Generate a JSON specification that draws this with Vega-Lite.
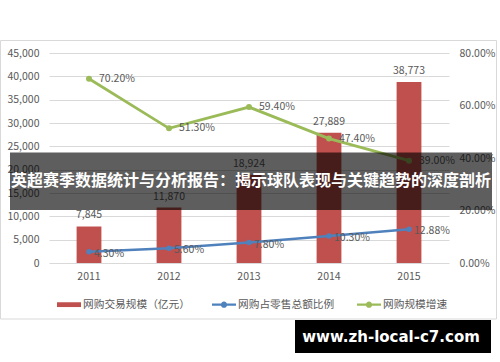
{
  "$schema": "https://vega.github.io/schema/vega-lite/v6.json",
  "width": 400,
  "height": 210,
  "autosize": {"type": "none"},
  "padding": {"left": 49, "top": 53, "right": 51, "bottom": 99},
  "background": "white",
  "config": {
    "view": {"stroke": null},
    "font": "Noto Sans CJK SC",
    "axis": {"labelFont": "Noto Sans CJK SC", "labelColor": "#595959", "labelFontSize": 10.5}
  },
  "data": {
    "values": [
      {"year": "2011", "scale": 7845, "share": 0.043, "growth": 0.702},
      {"year": "2012", "scale": 11870, "share": 0.056, "growth": 0.513},
      {"year": "2013", "scale": 18924, "share": 0.078, "growth": 0.594},
      {"year": "2014", "scale": 27889, "share": 0.103, "growth": 0.474},
      {"year": "2015", "scale": 38773, "share": 0.1288, "growth": 0.39}
    ]
  },
  "layer": [
    {
      "data": {"values": [{}]},
      "mark": {"type": "rect", "filled": false, "stroke": "#D9D9D9", "strokeWidth": 1},
      "encoding": {
        "x": {"datum": -0.12125, "type": "quantitative", "scale": {"domain": [0, 1], "nice": false, "zero": false}, "axis": null},
        "x2": {"datum": 1.11875},
        "y": {"datum": 1.0595, "type": "quantitative", "scale": {"domain": [0, 1], "nice": false, "zero": false}, "axis": null},
        "y2": {"datum": -0.2667}
      }
    },
    {
      "layer": [
        {
          "encoding": {
            "x": {
              "field": "year", "type": "nominal",
              "scale": {"paddingInner": 0, "paddingOuter": 0},
              "axis": {"title": null, "labelAngle": 0, "domain": false, "ticks": false, "labelPadding": 8, "grid": false}
            },
            "y": {
              "field": "scale", "type": "quantitative",
              "scale": {"domain": [0, 45000], "nice": false},
              "axis": {"title": null, "values": [0, 5000, 10000, 15000, 20000, 25000, 30000, 35000, 40000, 45000], "format": ",.0f", "grid": true, "gridColor": "#D9D9D9", "domain": false, "ticks": false, "labelPadding": 10}
            }
          },
          "layer": [
            {"mark": {"type": "bar", "color": "#C0504D", "width": {"band": 0.31}}},
            {
              "mark": {"type": "text", "baseline": "bottom", "dy": -6, "fontSize": 10.5, "color": "#595959"},
              "encoding": {"text": {"field": "scale", "type": "quantitative", "format": ",.0f"}}
            }
          ]
        },
        {
          "encoding": {
            "x": {"field": "year", "type": "nominal"}
          },
          "layer": [
            {
              "mark": {"type": "line", "color": "#4F81BD", "strokeWidth": 2.5, "point": {"filled": true, "size": 30, "color": "#4F81BD"}},
              "encoding": {
                "y": {"field": "share", "type": "quantitative", "scale": {"domain": [0, 0.8], "nice": false},
                  "axis": {"title": null, "orient": "right", "values": [0, 0.1, 0.2, 0.3, 0.4, 0.5, 0.6, 0.7, 0.8], "format": ".2%", "grid": false, "domain": false, "ticks": false, "labelPadding": 10}}
              }
            },
            {
              "mark": {"type": "text", "align": "left", "baseline": "middle", "dx": 5, "dy": 2, "fontSize": 10.5, "color": "#595959"},
              "encoding": {
                "y": {"field": "share", "type": "quantitative"},
                "text": {"field": "share", "type": "quantitative", "format": ".2%"}
              }
            },
            {
              "mark": {"type": "line", "color": "#9BBB59", "strokeWidth": 2.8, "point": {"filled": true, "size": 36, "color": "#9BBB59"}},
              "encoding": {
                "y": {"field": "growth", "type": "quantitative"}
              }
            },
            {
              "mark": {"type": "text", "align": "left", "baseline": "middle", "dx": 10, "fontSize": 10.5, "color": "#595959"},
              "encoding": {
                "y": {"field": "growth", "type": "quantitative"},
                "text": {"field": "growth", "type": "quantitative", "format": ".2%"}
              }
            },
            {
              "data": {"values": [{"series": "网购交易规模（亿元）"}, {"series": "网购占零售总额比例"}, {"series": "网购规模增速"}]},
              "mark": {"type": "point", "filled": true, "opacity": 0},
              "encoding": {
                "x": {"value": 0},
                "color": {
                  "field": "series", "type": "nominal",
                  "scale": {"domain": ["网购交易规模（亿元）", "网购占零售总额比例", "网购规模增速"], "range": ["#C0504D", "#4F81BD", "#9BBB59"]},
                  "legend": {"title": null, "orient": "none", "direction": "horizontal", "legendX": 8, "legendY": 239.5, "symbolSize": 576, "symbolStrokeWidth": 0, "symbolOpacity": 1, "labelFontSize": 10.7, "labelColor": "#595959", "labelOffset": 2, "columnPadding": 22, "labelFont": "Noto Sans CJK SC", "encode": {"symbols": {"update": {"opacity": {"value": 1}}}}}
                },
                "shape": {
                  "field": "series", "type": "nominal",
                  "scale": {"domain": ["网购交易规模（亿元）", "网购占零售总额比例", "网购规模增速"], "range": ["M-1,-0.2H1V0.2H-1Z", "M-1,-0.1H1V0.1H-1Z M0.26,0A0.26,0.26 0 1,1 -0.26,0A0.26,0.26 0 1,1 0.26,0Z", "M-1,-0.1H1V0.1H-1Z M0.26,0A0.26,0.26 0 1,1 -0.26,0A0.26,0.26 0 1,1 0.26,0Z"]},
                  "legend": {"title": null, "orient": "none", "direction": "horizontal", "legendX": 8, "legendY": 239.5, "symbolSize": 576, "symbolStrokeWidth": 0, "symbolOpacity": 1, "labelFontSize": 10.7, "labelColor": "#595959", "labelOffset": 2, "columnPadding": 22, "labelFont": "Noto Sans CJK SC", "encode": {"symbols": {"update": {"opacity": {"value": 1}}}}}
                }
              }
            }
          ]
        }
      ],
      "resolve": {"scale": {"y": "independent"}}
    },
    {
      "data": {"values": [{}]},
      "encoding": {
        "x": {"type": "quantitative", "scale": {"domain": [0, 1], "nice": false, "zero": false}, "axis": null},
        "y": {"type": "quantitative", "scale": {"domain": [0, 1], "nice": false, "zero": false}, "axis": null}
      },
      "layer": [
        {
          "mark": {"type": "rect", "color": "#000000", "opacity": 0.63},
          "encoding": {
            "x": {"datum": -0.0975, "type": "quantitative", "scale": {"domain": [0, 1], "nice": false, "zero": false}, "axis": null},
            "x2": {"datum": 1.1075},
            "y": {"datum": 0.5262, "type": "quantitative", "scale": {"domain": [0, 1], "nice": false, "zero": false}, "axis": null},
            "y2": {"datum": 0.2524}
          }
        },
        {
          "mark": {"type": "text", "text": "英超赛季数据统计与分析报告：揭示球队表现与关键趋势的深度剖析", "color": "white", "fontSize": 16, "fontWeight": "bold", "font": "Noto Sans CJK SC", "align": "center", "baseline": "middle"},
          "encoding": {
            "x": {"datum": 0.505, "type": "quantitative"},
            "y": {"datum": 0.3905, "type": "quantitative"}
          }
        },
        {
          "mark": {"type": "rect", "color": "#000000", "opacity": 1},
          "encoding": {
            "x": {"datum": 0.615, "type": "quantitative"},
            "x2": {"datum": 1.105},
            "y": {"datum": -0.2714, "type": "quantitative"},
            "y2": {"datum": -0.4286}
          }
        },
        {
          "mark": {"type": "text", "text": "www.zh-local-c7.com", "color": "white", "fontSize": 15, "fontWeight": "bold", "font": "DejaVu Sans", "align": "center", "baseline": "middle"},
          "encoding": {
            "x": {"datum": 0.855, "type": "quantitative"},
            "y": {"datum": -0.35, "type": "quantitative"}
          }
        }
      ]
    }
  ],
  "resolve": {"scale": {"x": "independent", "y": "independent"}}
}
